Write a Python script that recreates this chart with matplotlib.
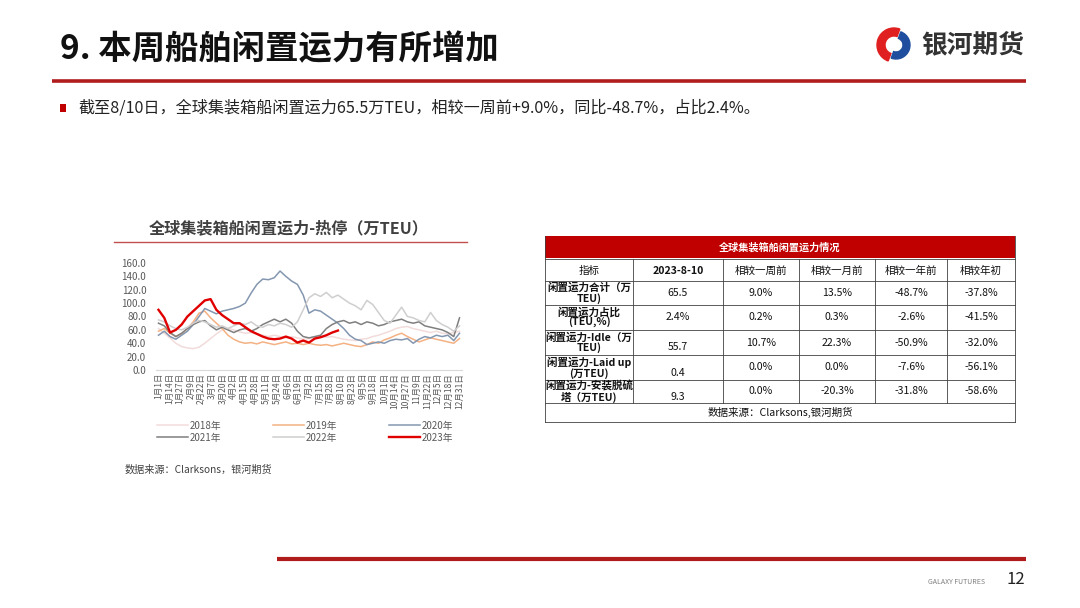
import numpy as np
import matplotlib
matplotlib.use("Agg")
import matplotlib.pyplot as plt
from matplotlib.patches import Rectangle, Wedge

plt.rcParams['font.family'] = ['Noto Sans CJK SC', 'DejaVu Sans']

# ---- data (weekly readings, 万TEU) ----
years = ["2018年", "2019年", "2020年", "2021年", "2022年", "2023年"]
s2018 = [62, 55, 48, 40, 35, 33, 32, 34, 40, 47, 54, 60, 62, 60, 57, 55, 56, 54, 52, 50,
         52, 50, 48, 50, 48, 46, 47, 48, 50, 49, 50, 48, 46, 45, 44, 46, 47, 50, 52, 55,
         58, 62, 64, 65, 62, 60, 58, 56, 58, 55, 54, 56, 58]
s2019 = [58, 62, 55, 50, 54, 62, 72, 85, 88, 78, 70, 62, 52, 46, 42, 40, 41, 39, 42, 40,
         38, 40, 42, 39, 40, 38, 40, 38, 37, 38, 36, 38, 40, 38, 36, 35, 38, 42, 40, 45,
         48, 52, 55, 50, 46, 42, 45, 48, 46, 44, 42, 40, 47]
s2020 = [52, 58, 50, 46, 52, 58, 68, 80, 92, 88, 84, 88, 90, 92, 95, 100, 115, 128, 136, 135,
         138, 148, 140, 133, 128, 112, 85, 90, 88, 82, 76, 70, 62, 52, 46, 44, 38, 40, 42, 40,
         44, 46, 45, 47, 40, 46, 50, 48, 52, 50, 52, 44, 55]
s2021 = [70, 66, 56, 50, 55, 62, 68, 72, 74, 66, 60, 64, 60, 56, 60, 62, 58, 62, 68, 72,
         76, 72, 76, 70, 58, 50, 48, 50, 52, 62, 68, 72, 74, 70, 72, 68, 72, 70, 66, 68,
         72, 74, 76, 72, 70, 72, 66, 64, 62, 60, 56, 50, 78]
s2022 = [75, 72, 66, 62, 60, 64, 70, 74, 72, 68, 64, 66, 62, 66, 70, 68, 72, 66, 64, 68,
         66, 70, 68, 64, 72, 90, 108, 114, 110, 116, 108, 112, 106, 100, 96, 90, 104, 98, 86, 74,
         70, 82, 94, 80, 78, 74, 72, 86, 74, 68, 64, 58, 66]
s2023 = [90, 78, 56, 60, 68, 80, 88, 96, 104, 106, 90, 82, 76, 70, 70, 64, 58, 54, 50, 47,
         46, 47, 50, 47, 41, 44, 41, 47, 49, 52, 56, 59]
series = [s2018, s2019, s2020, s2021, s2022, s2023]
colors = ["#F2DCDB", "#F4B183", "#8497B0", "#7F7F7F", "#D0CECE", "#E00000"]
tick_labels = ["1月1日", "1月14日", "1月27日", "2月9日", "2月22日", "3月7日", "3月20日",
               "4月2日", "4月15日", "4月28日", "5月11日", "5月24日", "6月6日", "6月19日",
               "7月2日", "7月15日", "7月28日", "8月10日", "8月23日", "9月5日", "9月18日",
               "10月1日", "10月14日", "10月27日", "11月9日", "11月22日", "12月5日",
               "12月18日", "12月31日"]

tbl_cols = ["指标", "2023-8-10", "相较一周前", "相较一月前", "相较一年前", "相较年初"]
tbl_rows = [
    ["闲置运力合计（万\nTEU)", "65.5", "9.0%", "13.5%", "-48.7%", "-37.8%"],
    ["闲置运力占比\n(TEU,%)", "2.4%", "0.2%", "0.3%", "-2.6%", "-41.5%"],
    ["闲置运力-Idle（万\nTEU)", "55.7", "10.7%", "22.3%", "-50.9%", "-32.0%"],
    ["闲置运力-Laid up\n(万TEU)", "0.4", "0.0%", "0.0%", "-7.6%", "-56.1%"],
    ["闲置运力-安装脱硫\n塔（万TEU)", "9.3", "0.0%", "-20.3%", "-31.8%", "-58.6%"],
]

fig = plt.figure(figsize=(10.8, 6.08), dpi=100)
fig.patch.set_facecolor("white")

# page overlay in pixel coordinates
pg = fig.add_axes((0, 0, 1, 1))
pg.set_xlim(0, 1080)
pg.set_ylim(608, 0)
pg.set_axis_off()

RED = "#C00000"
pg.text(60, 50, "9. 本周船舶闲置运力有所增加", fontsize=24, weight="bold",
        color="#111111", va="center", ha="left")
pg.plot([52, 1026], [80.5, 80.5], color="#B01C1C", lw=2.6, solid_capstyle="butt")
pg.add_patch(Rectangle((60, 104), 6, 8, color=RED, lw=0))
pg.text(78, 108, "截至8/10日，全球集装箱船闲置运力65.5万TEU，相较一周前+9.0%，同比-48.7%，占比2.4%。",
        fontsize=11.6, color="#222222", va="center", ha="left")

# logo
pg.add_patch(Wedge((894, 45), 17, 110, 290, width=8, color="#E02020"))
pg.add_patch(Wedge((896, 45), 14, 290, 110, width=7, color="#1F4E9E"))
pg.text(921, 45, "银河期货", fontsize=18.5, weight="bold", color="#333333",
        va="center", ha="left")

# footer
pg.plot([277, 1026], [558.5, 558.5], color="#B01C1C", lw=3.0, solid_capstyle="butt")
pg.text(985, 582, "GALAXY FUTURES", fontsize=5, color="#7F7F7F", ha="right", va="center")
pg.text(1016, 580, "12", fontsize=12, color="#222222", ha="center", va="center")

# chart header
pg.text(289, 228, "全球集装箱船闲置运力-热停（万TEU）", fontsize=11.6, weight="bold",
        color="#404040", ha="center", va="center")
pg.plot([114, 467], [241.5, 241.5], color="#C0504D", lw=1.0)
pg.text(125, 470, "数据来源：Clarksons，银河期货", fontsize=7.3, color="#404040",
        ha="left", va="center")

# table
xe = [545, 633, 723, 799, 875, 947, 1015]
ye = [236, 259, 281, 305, 330, 355, 380, 403, 422]
lc = "#404040"
pg.add_patch(Rectangle((xe[0], ye[0]), xe[-1] - xe[0], ye[1] - ye[0] - 1, color=RED, lw=0))
pg.text((xe[0] + xe[-1]) / 2, (ye[0] + ye[1]) / 2, "全球集装箱船闲置运力情况",
        fontsize=7.3, weight="bold", color="white", ha="center", va="center")
for y in ye[1:]:
    pg.plot([xe[0], xe[-1]], [y, y], color=lc, lw=0.6)
for x in xe[1:-1]:
    pg.plot([x, x], [ye[1], ye[-2]], color=lc, lw=0.6)
for x in (xe[0], xe[-1]):
    pg.plot([x, x], [ye[0], ye[-1]], color=lc, lw=0.6)
for j, c in enumerate(tbl_cols):
    pg.text((xe[j] + xe[j + 1]) / 2, (ye[1] + ye[2]) / 2 + 1, c, fontsize=7.6,
            weight="bold" if j == 1 else "medium", color="#111111", ha="center", va="center")
for i, row in enumerate(tbl_rows):
    yc = (ye[i + 2] + ye[i + 3]) / 2
    for j, v in enumerate(row):
        yy = yc
        if j == 1 and i >= 2:
            yy = yc + 5
        pg.text((xe[j] + xe[j + 1]) / 2, yy, v, fontsize=7.6,
                weight="bold" if j == 0 else "normal", color="#111111",
                ha="center", va="center", linespacing=1.0)
pg.text((xe[0] + xe[-1]) / 2, (ye[-2] + ye[-1]) / 2, "数据来源：Clarksons,银河期货",
        fontsize=7.6, color="#111111", ha="center", va="center")

# line chart
ax = fig.add_axes((156 / 1080, 1 - 370 / 608, (462 - 156) / 1080, (370 - 263) / 608))
handles = []
for name, vals, col in zip(years, series, colors):
    days = np.arange(len(vals)) * 7
    lw = 1.7 if name == "2023年" else 1.1
    h, = ax.plot(days, vals, color=col, lw=lw, label=name)
    handles.append(h)
ax.set_xlim(-3, 367)
ax.set_ylim(0, 160)
ax.set_yticks(np.arange(0, 161, 20))
ax.set_yticklabels(["%.1f" % v for v in np.arange(0, 161, 20)])
ax.set_xticks(np.arange(len(tick_labels)) * 13)
ax.set_xticklabels(tick_labels, rotation=90)
ax.tick_params(axis="both", length=0, colors="#595959")
ax.tick_params(axis="y", pad=7, labelsize=7)
ax.tick_params(axis="x", pad=2, labelsize=6.1)
for sp in ("top", "right", "left"):
    ax.spines[sp].set_visible(False)
ax.spines["bottom"].set_color("#D9D9D9")
ax.set_facecolor("none")

order = [0, 3, 1, 4, 2, 5]
fig.legend([handles[k] for k in order], [years[k] for k in order], ncol=3,
           loc="upper left", bbox_to_anchor=(148 / 1080, 1 - 412 / 608),
           fontsize=7, frameon=False, handlelength=3.2, columnspacing=5.3,
           labelcolor="#595959", handletextpad=0.2, labelspacing=0.2)

fig.savefig("out.png", dpi=100)
